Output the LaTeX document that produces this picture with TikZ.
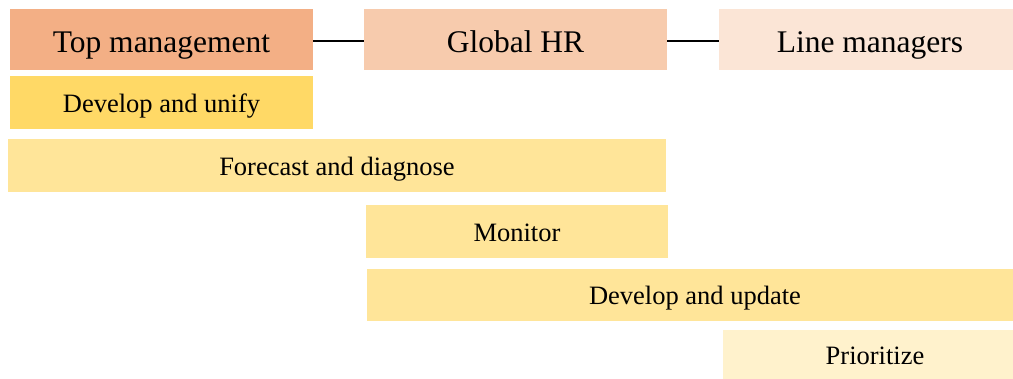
\documentclass[tikz,border=0pt]{standalone}
\usepackage{fontspec}
\setmainfont{Liberation Serif}
\definecolor{hdA}{HTML}{F3AF85}
\definecolor{hdB}{HTML}{F7CBAD}
\definecolor{hdC}{HTML}{FBE5D6}
\definecolor{bxA}{HTML}{FFD966}
\definecolor{bxB}{HTML}{FFE599}
\definecolor{bxC}{HTML}{FFF2CC}
\begin{document}
\begin{tikzpicture}[x=1pt,y=-1pt,
  hdbox/.style={anchor=north west,inner sep=0pt,outer sep=0pt,minimum height=61pt,text height=26pt,text depth=0pt,font=\fontsize{31.5}{34}\selectfont},
  actbox/.style={anchor=north west,inner sep=0pt,outer sep=0pt,text height=19.5pt,text depth=0pt,font=\fontsize{26.5}{30}\selectfont},
  link/.style={draw=black,line width=2pt}]
\useasboundingbox (0,0) rectangle (1013,379);
\node[hdbox,fill=hdA,minimum width=303pt] (top) at (10,9) {Top management};
\node[hdbox,fill=hdB,minimum width=303pt] (ghr) at (364,9) {Global HR};
\node[hdbox,fill=hdC,minimum width=294pt] (line) at (719,9) {\hspace{8pt}Line managers};
\draw[link] ([yshift=-2pt]top.east) -- ([yshift=-2pt]ghr.west);
\draw[link] ([yshift=-2pt]ghr.east) -- ([yshift=-2pt]line.west);
\node[actbox,fill=bxA,minimum width=303pt,minimum height=53pt] (unify) at (10,76) {Develop and unify};
\node[actbox,fill=bxB,minimum width=658pt,minimum height=53pt] (forecast) at (8,139) {Forecast and diagnose};
\node[actbox,fill=bxB,minimum width=302pt,minimum height=53pt] (monitor) at (366,205) {Monitor};
\node[actbox,fill=bxB,minimum width=646pt,minimum height=52pt] (update) at (367,269) {\hspace{10pt}Develop and update};
\node[actbox,fill=bxC,minimum width=290pt,minimum height=49pt] (prior) at (723,330) {\hspace{14pt}Prioritize};
\end{tikzpicture}
\end{document}
